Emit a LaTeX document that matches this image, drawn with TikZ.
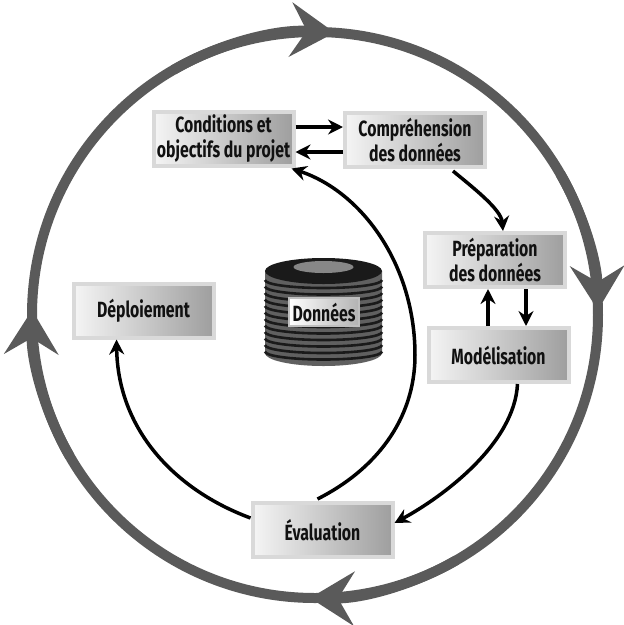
\documentclass[tikz,border=0pt]{standalone}
\usepackage{fontspec}
\newfontfamily\lbl{Fira Sans}[FakeStretch=0.72]
\usetikzlibrary{arrows.meta,calc,shadows}
\definecolor{ringgray}{HTML}{5A5A5A}
\definecolor{txt}{HTML}{111111}
\definecolor{cylgray}{HTML}{606060}
\definecolor{stripe}{HTML}{1A1A1A}
\begin{document}
\begin{tikzpicture}[x=1pt,y=-1pt,
  stage/.style={rectangle, draw=black!15, line width=4pt, left color=black!4, right color=black!38,
    minimum width=140pt, minimum height=54pt, inner sep=2pt,
    font=\lbl\bfseries\fontsize{22}{25}\selectfont, text=txt, align=center,
    drop shadow={opacity=0.22, shadow xshift=2pt, shadow yshift=-2pt}},
  dlabel/.style={rectangle, draw=black!25, line width=1.5pt, left color=white, right color=black!30,
    minimum width=70pt, minimum height=28pt, inner sep=1pt,
    font=\lbl\bfseries\fontsize{22}{25}\selectfont, text=txt},
  flow/.style={line width=3.5pt, -{Stealth[length=15pt,width=15pt,inset=5pt]}},
  ringline/.style={ringgray, line width=10pt},
  ring/.style={ringgray, line width=10pt, -{Stealth[length=44pt,width=54pt,inset=16pt]}}
]
\useasboundingbox[fill=white] (0,0) rectangle (624,625);

% outer cycle
\coordinate (O) at (315,315);
\draw[ringline] (O) circle[radius=283];
\draw[ring] ($(O)+(-120:283)$) arc[start angle=-120,end angle=-86,radius=283];
\draw[ring] ($(O)+(-30:283)$) arc[start angle=-30,end angle=-1,radius=283];
\draw[ring] ($(O)+(60:283)$) arc[start angle=60,end angle=91,radius=283];
\draw[ring] ($(O)+(150:283)$) arc[start angle=150,end angle=181,radius=283];

% data cylinder
\fill[cylgray] (265,271) -- (265,353) arc[start angle=180,end angle=0,x radius=58.5,y radius=13] -- (382,271) -- cycle;
\foreach \yy in {280,286.5,...,354}
  \draw[stripe, line width=2.6pt] (265,\yy) arc[start angle=180,end angle=0,x radius=58.5,y radius=8];
\fill[stripe] (323.5,271) ellipse[x radius=58.5,y radius=13];
\fill[black!47] (323.5,267) ellipse[x radius=30,y radius=6];
\node[dlabel] (don) at (324,312) {Données};

% stages
\node[stage] (cond) at (223.5,138.5) {Conditions et\\objectifs du projet};
\node[stage] (comp) at (415,140) {Compréhension\\des données};
\node[stage] (prep) at (495,260) {Préparation\\des données};
\node[stage] (mod) at (498.5,355) {Modélisation};
\node[stage] (dep) at (143.5,310.5) {Déploiement};
\node[stage] (eval) at (322.5,530) {Évaluation};

% flows
\draw[flow] (cond.east |- 0,127) -- (comp.west |- 0,127);
\draw[flow] (comp.west |- 0,152) -- (cond.east |- 0,152);
\draw[flow] ($(comp.south)+(38,2)$) .. controls +(18,15) and +(-2,-22) .. ($(prep.north)+(8,0)$);
\draw[flow] (mod.north -| 488,0) -- (prep.south -| 488,0);
\draw[flow] (prep.south -| 526,0) -- (mod.north -| 526,0);
\draw[flow] ($(mod.south)+(19,0)$) .. controls +(-3,60) and +(48,-26) .. ($(eval.east)+(0,-7)$);
\draw[flow] ($(eval.north)+(-5,-2)$) .. controls (375,470) and (415,420) .. (415,355)
  .. controls (415,265) and (362,192) .. ($(cond.south east)+(-4,1)$);
\draw[flow] ($(eval.west)+(0,-12)$) .. controls (175,490) and (118,430) .. ($(dep.south)+(-27,0)$);
\end{tikzpicture}
\end{document}
